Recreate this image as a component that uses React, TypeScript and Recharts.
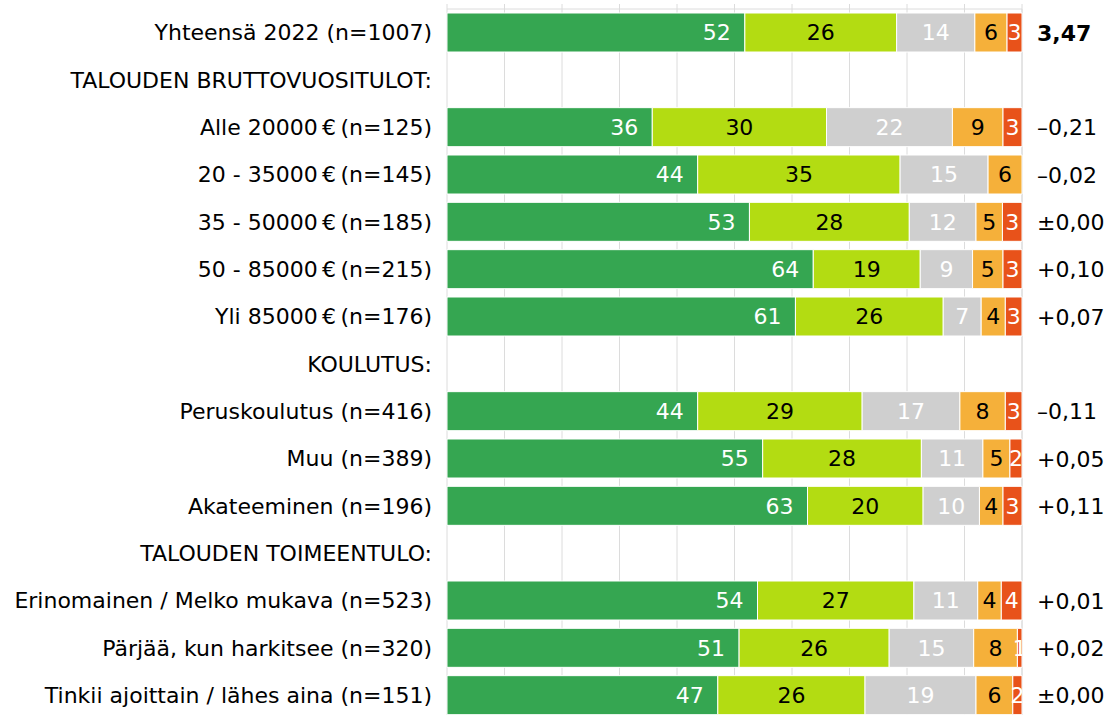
import React from 'react';
import { BarChart, Bar, XAxis, YAxis, CartesianGrid, LabelList } from 'recharts';

// Rows top to bottom; header rows have no values
const categories = [
  'Yhteensä 2022 (n=1007)',
  'TALOUDEN BRUTTOVUOSITULOT:',
  'Alle 20000\u202F€\u202F(n=125)',
  '20 - 35000\u202F€\u202F(n=145)',
  '35 - 50000\u202F€\u202F(n=185)',
  '50 - 85000\u202F€\u202F(n=215)',
  'Yli 85000\u202F€\u202F(n=176)',
  'KOULUTUS:',
  'Peruskoulutus (n=416)',
  'Muu (n=389)',
  'Akateeminen (n=196)',
  'TALOUDEN TOIMEENTULO:',
  'Erinomainen / Melko mukava (n=523)',
  'Pärjää, kun harkitsee (n=320)',
  'Tinkii ajoittain / lähes aina (n=151)',
];

const s1 = [51.8, null, 35.7, 43.6, 52.6, 63.7, 60.6, null, 43.6, 54.9, 62.7, null, 54.0, 50.8, 47.1];
const s2 = [26.4, null, 30.3, 35.2, 27.8, 18.6, 25.7, null, 28.6, 27.6, 20.1, null, 27.2, 26.1, 25.6];
const s3 = [13.6, null, 21.9, 15.3, 11.6, 9.1, 6.6, null, 17.0, 10.7, 9.8, null, 11.1, 14.7, 19.3];
const s4 = [5.6, null, 8.8, 5.9, 4.6, 5.3, 4.2, null, 7.9, 4.7, 4.1, null, 4.1, 7.6, 6.4];
const s5 = [2.6, null, 3.3, 0, 3.4, 3.3, 2.9, null, 2.9, 2.1, 3.3, null, 3.6, 0.8, 1.6];

const rightLabels = [
  '3,47', '', '–0,21', '–0,02', '±0,00', '+0,10', '+0,07', '',
  '–0,11', '+0,05', '+0,11', '', '+0,01', '+0,02', '±0,00',
];

const xTicks = [0, 10, 20, 30, 40, 50, 60, 70, 80, 90, 100];

const data = categories.map((name, i) => ({
  name,
  s1: s1[i],
  s2: s2[i],
  s3: s3[i],
  s4: s4[i],
  s5: s5[i],
}));

const series = [
  { key: 's1', color: '#35a651', text: '#ffffff', mode: 'right' },
  { key: 's2', color: '#b3dc12', text: '#000000', mode: 'center' },
  { key: 's3', color: '#cfcfcf', text: '#ffffff', mode: 'center' },
  { key: 's4', color: '#f5b03a', text: '#000000', mode: 'center' },
  { key: 's5', color: '#e8521a', text: '#ffffff', mode: 'clip' },
];

const FONT = 22;
const GRID = '#dcdcdc';

const makeLabel = (fill: string, mode: string, key: string) => (props: any) => {
  const { x, y, width, height, value, index } = props;
  if (value == null || value === 0) return null;
  const cy = Number(y) + Number(height) / 2;
  const label = String(Math.round(Number(value)));
  if (mode === 'right') {
    return (
      <text x={Number(x) + Number(width) - 14} y={cy} dy="0.36em" textAnchor="end" fill={fill} fontSize={FONT}>
        {label}
      </text>
    );
  }
  const cx = Number(x) + Number(width) / 2;
  if (mode === 'clip') {
    const id = `clip-${key}-${index}`;
    return (
      <g>
        <defs>
          <clipPath id={id}>
            <rect x={Number(x) - 30} y={y} width={Number(width) + 30} height={height} />
          </clipPath>
        </defs>
        <text x={cx} y={cy} dy="0.36em" textAnchor="middle" fill={fill} fontSize={FONT} clipPath={`url(#${id})`}>
          {label}
        </text>
      </g>
    );
  }
  return (
    <text x={cx} y={cy} dy="0.36em" textAnchor="middle" fill={fill} fontSize={FONT}>
      {label}
    </text>
  );
};

const EmptyTick = () => <g />;

const RightTick = (props: any) => {
  const { x, y, payload } = props;
  const idx = payload.index;
  return (
    <text
      x={x}
      y={y}
      dy="0.36em"
      textAnchor="start"
      fill="#000"
      fontSize={FONT}
      fontWeight={idx === 0 ? 'bold' : 'normal'}
    >
      {rightLabels[idx]}
    </text>
  );
};

export default function App() {
  return (
    <div style={{ position: 'absolute', left: 0, top: 0, fontFamily: '"DejaVu Sans", Verdana, sans-serif' }}>
      <BarChart
        width={1106}
        height={725}
        data={data}
        layout="vertical"
        margin={{ top: 8, right: 0, bottom: 6, left: 0 }}
      >
        <CartesianGrid horizontal={false} vertical={true} stroke={GRID} />
        <XAxis
          type="number"
          orientation="top"
          domain={[0, 100]}
          ticks={xTicks}
          interval={0}
          height={1}
          tick={<EmptyTick />}
          tickSize={5}
          axisLine={{ stroke: GRID }}
          tickLine={{ stroke: GRID }}
        />
        <YAxis
          type="category"
          dataKey="name"
          width={447}
          axisLine={false}
          tickLine={false}
          tickSize={0}
          tickMargin={15}
          interval={0}
          tick={{ fill: '#000', fontSize: FONT }}
        />
        <YAxis
          yAxisId="right"
          type="category"
          dataKey="name"
          orientation="right"
          width={84}
          axisLine={false}
          tickLine={false}
          tickSize={0}
          tickMargin={15}
          interval={0}
          tick={<RightTick />}
        />
        {series.map((s) => (
          <Bar
            key={s.key}
            dataKey={s.key}
            stackId="a"
            fill={s.color}
            stroke="#ffffff"
            strokeWidth={1}
            barSize={39}
            isAnimationActive={false}
          >
            <LabelList dataKey={s.key} content={makeLabel(s.text, s.mode, s.key)} />
          </Bar>
        ))}
      </BarChart>
    </div>
  );
}
